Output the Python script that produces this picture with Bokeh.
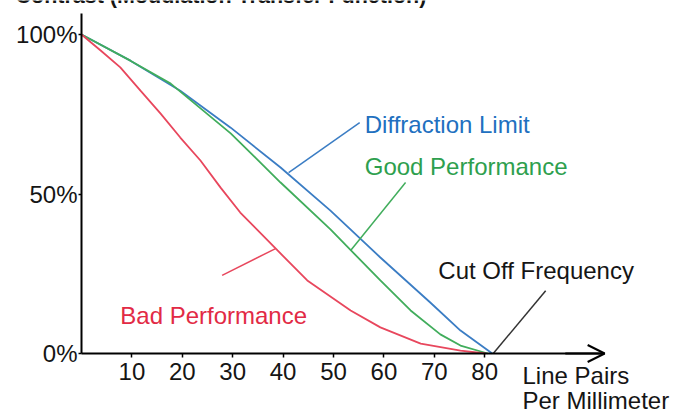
from bokeh.plotting import figure
from bokeh.models import Label, Arrow, OpenHead, FixedTicker, Range1d
from bokeh.embed import file_html
from bokeh.resources import INLINE

# ---- data ----
freq_diffraction = [0, 9.7, 19.6, 29.6, 39.5, 49.4, 59.3, 69.2, 75.2, 81.5]
mtf_diffraction = [100, 91.8, 82.4, 70.8, 58.3, 44.8, 30.1, 16.0, 7.2, 0]

freq_good = [0, 9.7, 17.7, 29.6, 39.5, 49.4, 59.3, 65.3, 71.2, 75.2, 80.6]
mtf_good = [100, 91.8, 84.6, 69.0, 53.6, 38.9, 22.9, 13.5, 6.0, 2.5, 0]

freq_bad = [0, 3.8, 7.7, 11.7, 15.7, 19.6, 23.6, 27.6, 31.5, 38.9, 44.8,
            53.4, 59.3, 67.3, 75.2, 80.2]
mtf_bad = [100, 95.0, 89.7, 82.4, 75.2, 67.7, 60.5, 52.0, 44.2, 32.3, 22.9,
           13.5, 8.2, 3.1, 0.9, 0]

x_ticks = [10, 20, 30, 40, 50, 60, 70, 80]
y_ticks = [0, 50, 100]
y_tick_labels = ["0%", "50%", "100%"]

title_text = "Contrast (Modulation Transfer Function)"
x_title_lines = ["Line Pairs", "Per Millimeter"]

# ---- styles ----
FONT = "Liberation Sans"
BLUE_LINE, BLUE_TEXT = "#3b7dc4", "#2170c0"
GREEN_LINE, GREEN_TEXT = "#41ad5c", "#2e9f4e"
RED_LINE, RED_TEXT = "#e8475d", "#e22a45"
INK = "#151515"

# the frame covers the whole canvas; axes are placed at x=0 / y=0
p = figure(width=681, height=414,
           x_range=Range1d(-16.07, 119.05), y_range=Range1d(-19.12, 110.66),
           output_backend="svg", toolbar_location=None,
           min_border_left=0, min_border_right=0,
           min_border_top=0, min_border_bottom=0)
p.grid.visible = False
p.outline_line_color = None
p.background_fill_color = "white"
p.border_fill_color = "white"

# curves
p.line(freq_diffraction, mtf_diffraction, line_color=BLUE_LINE, line_width=1.8)
p.line(freq_good, mtf_good, line_color=GREEN_LINE, line_width=1.8)
p.line(freq_bad, mtf_bad, line_color=RED_LINE, line_width=1.8)

# axes
for ax in (p.xaxis, p.yaxis):
    ax.fixed_location = 0
    ax.axis_line_width = 2
    ax.axis_line_color = "black"
    ax.minor_tick_line_color = None
    ax.major_tick_in = 0
    ax.major_tick_line_width = 1.5
    ax.major_tick_line_color = "black"
    ax.major_label_text_font = FONT
    ax.major_label_text_font_size = "24px"
    ax.major_label_text_color = INK

p.xaxis.bounds = (0, 103.8)
p.xaxis.ticker = FixedTicker(ticks=x_ticks)
p.xaxis.major_tick_out = 4
p.xaxis.major_label_standoff = 5

p.yaxis.bounds = (0, 106.6)
p.yaxis.ticker = FixedTicker(ticks=y_ticks)
p.yaxis.major_label_overrides = {t: s for t, s in zip(y_ticks, y_tick_labels)}
p.yaxis.major_tick_out = 3
p.yaxis.major_label_standoff = 1

# x-axis arrow head
p.add_layout(Arrow(end=OpenHead(size=17, line_width=2, line_color="black"),
                   x_start=96, y_start=0, x_end=103.8, y_end=0,
                   line_width=2, line_color="black"))

# leader lines
p.segment(x0=[41.1, 53.4, 38.5, 81.7], y0=[56.7, 32.3, 32.9, 0],
          x1=[55.2, 64.3, 27.9, 92.1], y1=[72.4, 53.6, 24.5, 19.7],
          line_color=[BLUE_LINE, GREEN_LINE, RED_LINE, "#333333"],
          line_width=1.5)

def add_label(x, y, text, color, size="24px", style="normal"):
    p.add_layout(Label(x=x, y=y, text=text, text_color=color,
                       text_font=FONT, text_font_size=size,
                       text_font_style=style,
                       text_baseline="alphabetic", text_align="left"))

add_label(56.2, 71.8, "Diffraction Limit", BLUE_TEXT)
add_label(56.2, 58.6, "Good Performance", GREEN_TEXT)
add_label(7.7, 11.9, "Bad Performance", RED_TEXT)
add_label(70.8, 26.0, "Cut Off Frequency", INK)
add_label(87.5, -6.8, x_title_lines[0], INK)
add_label(87.5, -14.6, x_title_lines[1], INK)

# title, cut off at the top edge as in the reference
add_label(-13.1, 112.2, title_text, INK, size="21.5px", style="bold")

open("out.html", "w").write(file_html(p, INLINE))
